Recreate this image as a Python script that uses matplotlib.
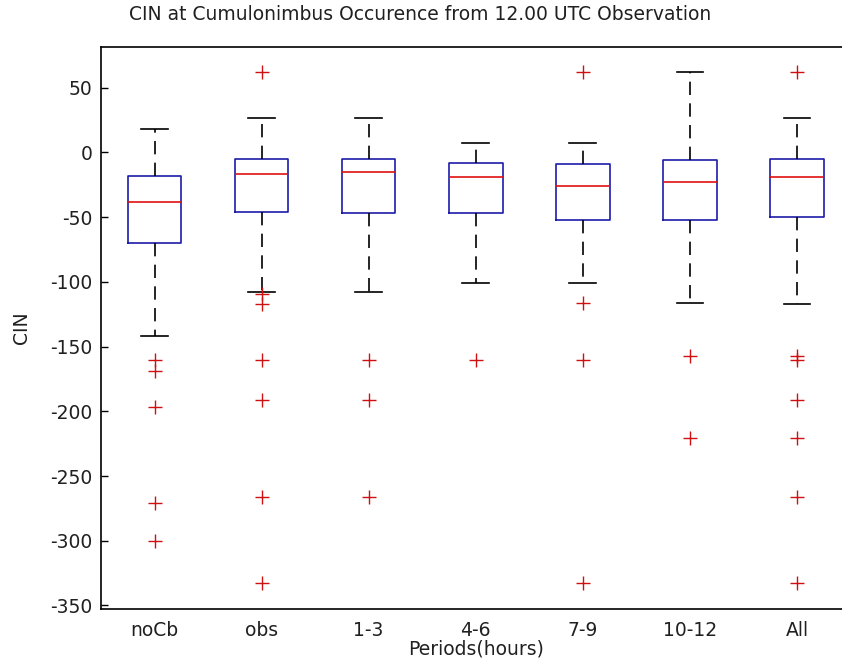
import matplotlib
matplotlib.use("Agg")
import matplotlib.pyplot as plt

plt.rcParams['font.family'] = ['DejaVu Sans']

categories = ["noCb", "obs", "1-3", "4-6", "7-9", "10-12", "All"]
whisker_low = [-142, -108, -108, -101, -101, -116, -117]
q1 = [-70, -46, -47, -47, -52, -52, -50]
median = [-38, -17, -15, -19, -26, -23, -19]
q3 = [-18, -5, -5, -8, -9, -6, -5]
whisker_high = [18, 27, 27, 7, 7, 62, 27]
outliers = [
    [-160, -169, -197, -271, -300],
    [62, -109, -117, -160, -191, -266, -333],
    [-160, -191, -266],
    [-160],
    [62, -116, -160, -333],
    [-157, -221],
    [62, -157, -160, -191, -221, -266, -333],
]
yticks = [-350, -300, -250, -200, -150, -100, -50, 0, 50]

FS = 13.5

fig = plt.figure(figsize=(8.42, 6.67), dpi=100)
ax = fig.add_axes([101 / 842, 1 - 609 / 667, (850.5 - 101) / 842, (609 - 46.7) / 667])

stats = []
for i, c in enumerate(categories):
    stats.append(dict(label=c, med=median[i], q1=q1[i], q3=q3[i],
                      whislo=whisker_low[i], whishi=whisker_high[i],
                      fliers=outliers[i]))

blue = '#1c1ca8'
ax.bxp(stats, positions=range(1, len(categories) + 1), widths=0.5,
       boxprops=dict(color=blue, linewidth=1.2),
       medianprops=dict(color='#e01010', linewidth=1.2),
       whiskerprops=dict(color='black', linewidth=1.2, linestyle=(0, (8, 5))),
       capprops=dict(color='black', linewidth=1.2),
       flierprops=dict(marker='+', markeredgecolor='#d01010', markersize=10,
                       markeredgewidth=1.0, linestyle='none'))

allvals = [v for lst in outliers for v in lst] + whisker_low + whisker_high
lo, hi = min(allvals), max(allvals)
rng = hi - lo
ax.set_ylim(lo - 0.05 * rng, hi + 0.05 * rng)
ax.set_xlim(0.5, len(categories) + 0.5)
ax.set_yticks(yticks)
ax.set_yticklabels([str(t) for t in yticks])
ax.set_xticks(range(1, len(categories) + 1))
ax.set_xticklabels(categories)

ax.tick_params(axis='y', direction='in', length=5, width=1, left=True, right=True,
               labelsize=FS, pad=6, labelcolor='#202020')
ax.tick_params(axis='x', length=0, labelsize=FS, pad=9, labelcolor='#202020')
for s in ax.spines.values():
    s.set_linewidth(1.2)

ax.set_xlabel("Periods(hours)", fontsize=FS, labelpad=-1, color='#202020')
ax.set_ylabel("CIN", fontsize=FS, labelpad=14, color='#202020')
ax.set_title("CIN at Cumulonimbus Occurence from 12.00 UTC Observation",
             fontsize=FS, pad=19, x=(420 - 101) / (850.5 - 101), color='#202020')

fig.savefig("out.png", dpi=100)
